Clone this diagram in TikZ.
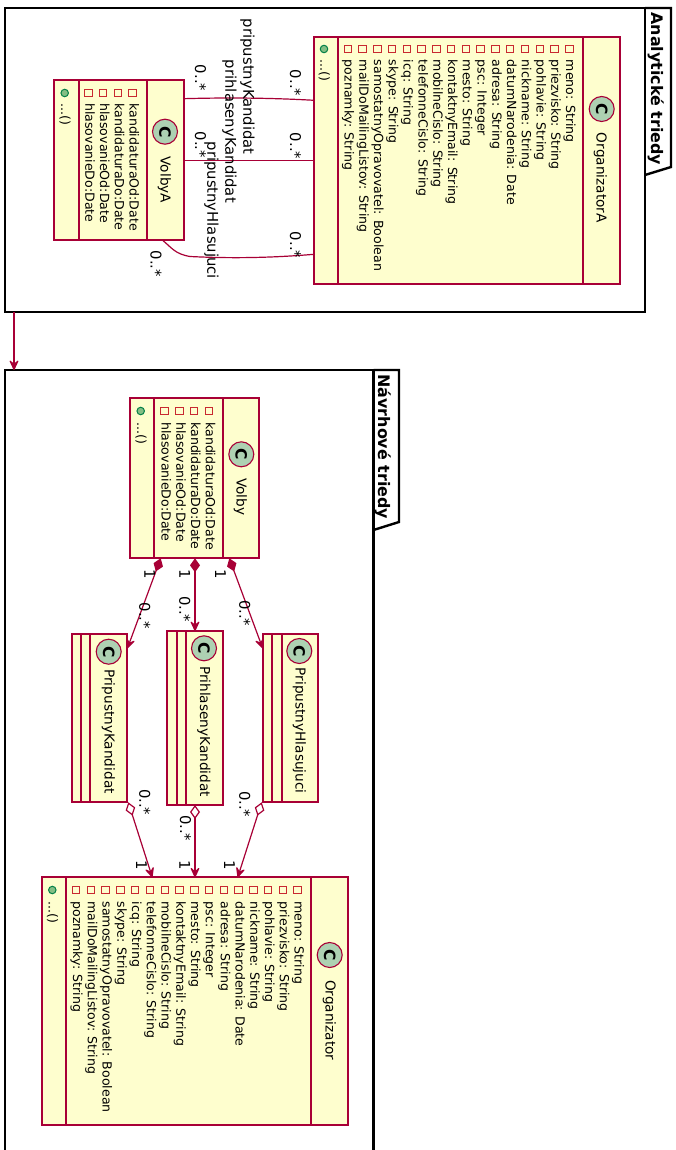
\documentclass[tikz,border=0pt]{standalone}
\usepackage{fontspec}
\setmainfont{DejaVu Sans}
\usetikzlibrary{arrows.meta,calc}
\definecolor{umlred}{HTML}{A80036}
\definecolor{umlfill}{HTML}{FEFECE}
\definecolor{umlspot}{HTML}{ADD1B2}
\definecolor{attrred}{HTML}{C82930}
\definecolor{methfill}{HTML}{84BE84}
\definecolor{methline}{HTML}{038048}
\tikzset{
  x=1pt,y=-1pt,
  rtext/.style={rotate=-90,anchor=base west,inner sep=0pt,outer sep=0pt,text=black},
  attrtext/.style={rtext,font=\fontsize{12.55}{13}\selectfont},
  titletext/.style={rtext,font=\fontsize{13.65}{14}\selectfont},
  edgetext/.style={rtext,font=\fontsize{14.8}{15}\selectfont},
  pkgtext/.style={rtext,font=\fontsize{15.9}{16}\selectfont\bfseries},
  classbox/.style={draw=umlred,fill=umlfill,line width=1.8pt,anchor=north west,inner sep=0pt,outer sep=0pt},
  classsep/.style={draw=umlred,line width=1.8pt},
  pkgbox/.style={draw=black,line width=2.4pt,anchor=north west,inner sep=0pt,outer sep=0pt},
  spot/.style={circle,draw=umlred,fill=umlspot,line width=1.1pt,minimum size=25pt,inner sep=0pt,outer sep=0pt},
  attrmark/.style={draw=attrred,line width=1pt,minimum size=7.5pt,inner sep=0pt,outer sep=0pt},
  methmark/.style={circle,draw=methline,fill=methfill,line width=1pt,minimum size=7.5pt,inner sep=0pt,outer sep=0pt},
  link/.style={draw=umlred,line width=1.2pt},
  vee/.tip={Stealth[length=12pt,width=11pt,inset=5pt,round=false,fill=umlred]},
  comp/.tip={Diamond[length=14pt,width=10pt,fill=umlred]},
  aggr/.tip={Diamond[length=14pt,width=10pt,fill=white]},
}
% name, x1,y1,x2,y2, sep low, sep high, spot x, spot y
\newcommand{\umlclass}[9]{%
  \node[classbox,minimum width=#4pt-#2pt,minimum height=#5pt-#3pt] (#1) at (#2,#3) {};
  \draw[classsep] (#6,#3) -- (#6,#5);
  \draw[classsep] (#7,#3) -- (#7,#5);
  \umlspot{#1}{#8}{#9}}
\newcommand{\umlspot}[3]{%
  \node[spot] (#1-spot) at (#2,#3) {};
  \node[rotate=-90,inner sep=0pt,font=\fontsize{15.5}{16}\selectfont\bfseries] (#1-c) at (#2,#3) {C};}
% name, marker x, y, text y, list
\newcommand{\umlattrs}[5]{%
  \foreach \t [count=\i from 0] in {#5} {
    \node[attrmark] (#1-m\i) at (#2-\i*14.77,#3) {};
    \node[attrtext] (#1-a\i) at (#2-3.1-\i*14.77,#4) {\t};
  }}
\newcommand{\umlmeth}[4]{%
  \node[methmark] (#1-mm) at (#2,#3) {};
  \node[attrtext] (#1-mt) at (#2-3.6,#4) {...()};}
\begin{document}
\begin{tikzpicture}
\useasboundingbox (0,0) rectangle (675,1150);
\clip (0,0) rectangle (675,1150);
\fill[white] (0,0) rectangle (675,1150);

% packages
\node[pkgbox,minimum width=640pt,minimum height=304pt] (pkgA) at (5,8) {};
\draw[draw=black,line width=2.4pt,line join=miter] (645,8) -- (671,8) -- (671,167) -- (645,175);
\node[pkgtext] (pkgAt) at (651.7,12.5) {Analytické triedy};

\node[pkgbox,minimum width=368.5pt,minimum height=800pt] (pkgB) at (5,370) {};
\draw[draw=black,line width=2.4pt,line join=miter] (373.5,370) -- (399,370) -- (399,522) -- (373.5,530);
\node[pkgtext] (pkgBt) at (378,374.5) {Návrhové triedy};

\draw[link,-{vee}] ([shift={(9,0)}]pkgA.south west) -- ([shift={(9,0)}]pkgB.north west);

% OrganizatorA
\umlclass{orgA}{314}{37}{620}{284}{338}{582.7}{601.7}{109}
\node[titletext] (orgAt) at (596.5,133) {OrganizatorA};
\umlattrs{orgA}{569.3}{49}{60}{meno: String,priezvisko: String,pohlavie: String,nickname: String,datumNarodenia: Date,adresa: String,psc: Integer,mesto: String,kontaktnyEmail: String,mobilneCislo: String,telefonneCislo: String,icq: String,skype: String,samostatnyOpravovatel: Boolean,mailDoMailingListov: String,poznamky: String}
\umlmeth{orgA}{324}{49}{60}

% VolbyA
\umlclass{volbyA}{54.3}{80}{183.7}{240}{78.7}{146.7}{165}{131.7}
\node[titletext] (volbyAt) at (160.5,156.7) {VolbyA};
\umlattrs{volbyA}{132.7}{93}{103.3}{kandidaturaOd:Date,kandidaturaDo:Date,hlasovanieOd:Date,hlasovanieDo:Date}
\umlmeth{volbyA}{64.7}{93}{103.3}

% analytic links
\draw[link] ([shift={(129.4,18.7)}]volbyA.north west) .. controls (225,97.5) and (270,97.8) .. ([shift={(0,63.3)}]orgA.north west);
\draw[link] ([shift={(129.4,80.3)}]volbyA.north west) -- ([shift={(0,123.3)}]orgA.north west);
\draw[link] ([shift={(108,160)}]volbyA.north west) .. controls (172,248) and (175,254) .. (190,256.5) .. controls (230,258.5) and (270,258) .. ([shift={(0,217.3)}]orgA.north west);
\node[edgetext] (lA1) at (243.3,19) {pripustnyKandidat};
\node[edgetext] (lA2) at (225.3,60) {prihlasenyKandidat};
\node[edgetext] (lA3) at (207.3,141.7) {pripustnyHlasujuci};
\node[edgetext] (mA1) at (290,70) {0..*};
\node[edgetext] (mA2) at (290,133) {0..*};
\node[edgetext] (mA3) at (290,232) {0..*};
\node[edgetext] (mA4) at (195,65) {0..*};
\node[edgetext] (mA5) at (195,131.7) {0..*};
\node[edgetext] (mA6) at (150.7,250.7) {0..*};

% Volby
\umlclass{volby}{130.3}{398.3}{259.3}{558.3}{154.3}{222.7}{241.3}{454.3}
\node[titletext] (volbyt) at (236.5,478) {Volby};
\umlattrs{volby}{209}{411}{422.3}{kandidaturaOd:Date,kandidaturaDo:Date,hlasovanieOd:Date,hlasovanieDo:Date}
\umlmeth{volby}{140.7}{411}{422.3}

% middle classes
\umlclass{pk}{71.7}{634.3}{127}{801.7}{80.7}{90.3}{108.7}{651.7}
\node[titletext] (pkt) at (104.5,669.3) {PripustnyKandidat};
\umlclass{prk}{167.3}{631}{222.7}{805}{176.7}{186}{204}{648.3}
\node[titletext] (prkt) at (200,666) {PrihlasenyKandidat};
\umlclass{ph}{263}{634}{318.3}{802}{272.3}{281.7}{299.3}{651}
\node[titletext] (pht) at (295.5,667.7) {PripustnyHlasujuci};

% Organizator
\umlclass{org}{42}{877.3}{348.3}{1125}{66}{311.3}{329.7}{955}
\node[titletext] (orgt) at (325.5,980) {Organizator};
\umlattrs{org}{297.7}{890}{901.7}{meno: String,priezvisko: String,pohlavie: String,nickname: String,datumNarodenia: Date,adresa: String,psc: Integer,mesto: String,kontaktnyEmail: String,mobilneCislo: String,telefonneCislo: String,icq: String,skype: String,samostatnyOpravovatel: Boolean,mailDoMailingListov: String,poznamky: String}
\umlmeth{org}{52.3}{890}{901.7}

% composition links
\draw[link,{comp}-{vee}] ([shift={(99,0)}]volby.south west) -- ([shift={(-0.3,14.3)}]ph.north west);
\draw[link,{comp}-{vee}] ([shift={(64.7,0)}]volby.south west) -- ([shift={(27.7,0)}]prk.north west);
\draw[link,{comp}-{vee}] ([shift={(30.4,0)}]volby.south west) -- ([shift={(55.7,14)}]pk.north west);
\node[edgetext] (c1a) at (215,569) {1};
\node[edgetext] (c1b) at (179.3,569) {1};
\node[edgetext] (c1c) at (144.3,569) {1};
\node[edgetext] (c2a) at (239.3,600) {0..*};
\node[edgetext] (c2b) at (179.3,596) {0..*};
\node[edgetext] (c2c) at (139.3,602.7) {0..*};

% aggregation links
\draw[link,{aggr}-{vee}] ([shift={(56.6,0.6)}]pk.south west) -- ([shift={(110.3,0)}]org.north west);
\draw[link,{aggr}-{vee}] ([shift={(27.7,0)}]prk.south west) -- ([shift={(153,0)}]org.north west);
\draw[link,{aggr}-{vee}] ([shift={(-1.3,0.3)}]ph.south west) -- ([shift={(195.7,0)}]org.north west);
\node[edgetext] (d1a) at (139.3,789) {0..*};
\node[edgetext] (d1b) at (180,815) {0..*};
\node[edgetext] (d1c) at (239.3,791) {0..*};
\node[edgetext] (d2a) at (136,860) {1};
\node[edgetext] (d2b) at (179.3,860) {1};
\node[edgetext] (d2c) at (224,860) {1};
\end{tikzpicture}
\end{document}
